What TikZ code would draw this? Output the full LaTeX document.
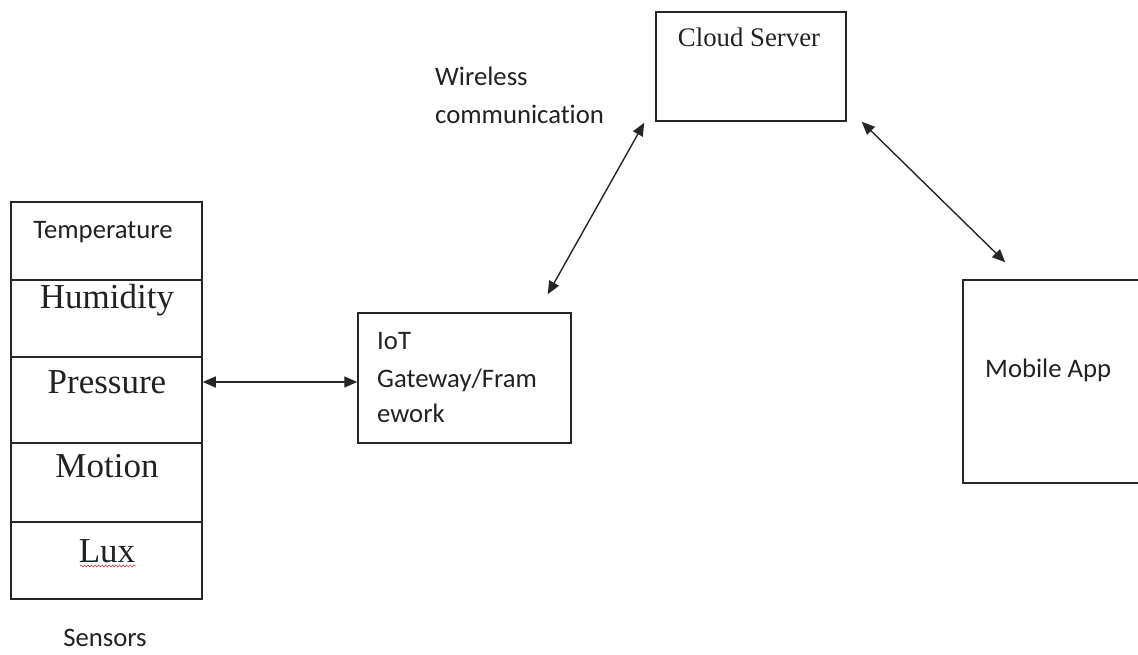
\documentclass[tikz,border=0pt]{standalone}
\usepackage{fontspec}
\setmainfont{Liberation Serif}
\newfontfamily\calfont[Ligatures=NoCommon]{Carlito}
\usetikzlibrary{arrows.meta,decorations.pathmorphing}
\definecolor{txt}{HTML}{222222}
\definecolor{wavy}{HTML}{D04040}
\begin{document}
\begin{tikzpicture}[x=1pt,y=-1pt,
  box/.style={draw=black!85,line width=1.5pt,inner sep=0pt},
  sans/.style={font=\calfont\fontsize{26.7}{32}\selectfont,inner sep=0pt,text=txt},
  serif/.style={font=\fontsize{35}{42}\selectfont,inner sep=0pt,text=txt},
  cserif/.style={font=\fontsize{26.8}{32}\selectfont,inner sep=0pt,text=txt},
  dblarr/.style={{Triangle[length=13pt,width=11pt]}-{Triangle[length=13pt,width=11pt]},line width=1.4pt,draw=black!85}]
\clip (0,0) rectangle (1138,654);
\fill[white] (0,0) rectangle (1138,654);

% sensor stack
\node[box,minimum width=191pt,minimum height=78pt] (c1) at (106.5,241) {};
\node[box,minimum width=191pt,minimum height=77pt] (c2) at (106.5,318.5) {};
\node[box,minimum width=191pt,minimum height=86pt] (c3) at (106.5,400) {};
\node[box,minimum width=191pt,minimum height=79pt] (c4) at (106.5,482.5) {};
\node[box,minimum width=191pt,minimum height=77pt] (c5) at (106.5,560.5) {};

\node[sans,anchor=base] (t1) at (103,238) {Temperature};
\node[serif,anchor=base] (t2) at (107,308) {Humidity};
\node[serif,anchor=base] (t3) at (107,393) {Pressure};
\node[serif,anchor=base] (t4) at (107,477) {Motion};
\node[serif,anchor=base] (t5) at (107,562) {Lux};
\coordinate (w1) at (80,566);
\coordinate (w2) at (136,566);
\draw[wavy,line width=0.6pt,decorate,decoration={snake,segment length=3.5pt,amplitude=1pt}] (w1) -- (w2);
\node[sans,anchor=base] (sens) at (105,646) {Sensors};

% IoT gateway
\node[box,minimum width=213pt,minimum height=130pt] (iot) at (464.5,378) {};
\node[sans,anchor=base west] (iot1) at (377,349) {IoT};
\node[sans,anchor=base west] (iot2) at (377,387) {Gateway/Fram};
\node[sans,anchor=base west] (iot3) at (377,422) {ework};

% cloud server
\node[box,minimum width=190pt,minimum height=109pt] (cloud) at (751,66.5) {};
\node[cserif,anchor=base] (cloudt) at (749,46) {Cloud Server};

% mobile app
\node[box,minimum width=187pt,minimum height=203pt] (mob) at (1056.5,381.5) {};
\node[sans,anchor=base west] (mobt) at (985,377) {Mobile App};

% wireless label
\node[sans,anchor=base west] (wl1) at (435,85) {Wireless};
\node[sans,anchor=base west] (wl2) at (435,123) {communication};

% connectors
\draw[dblarr] ([yshift=18pt]c3.east) -- ([yshift=18pt]c3.east -| iot.west);
\coordinate (a2b) at ([shift={(-24pt,18pt)}]iot.north east);
\coordinate (a2t) at ([shift={(-11pt,-1pt)}]cloud.south west);
\draw[dblarr] (a2b) -- (a2t);
\coordinate (a3t) at ([shift={(15pt,0pt)}]cloud.south east);
\coordinate (a3b) at ([shift={(43pt,17pt)}]mob.north west);
\draw[dblarr] (a3t) -- (a3b);
\end{tikzpicture}
\end{document}
